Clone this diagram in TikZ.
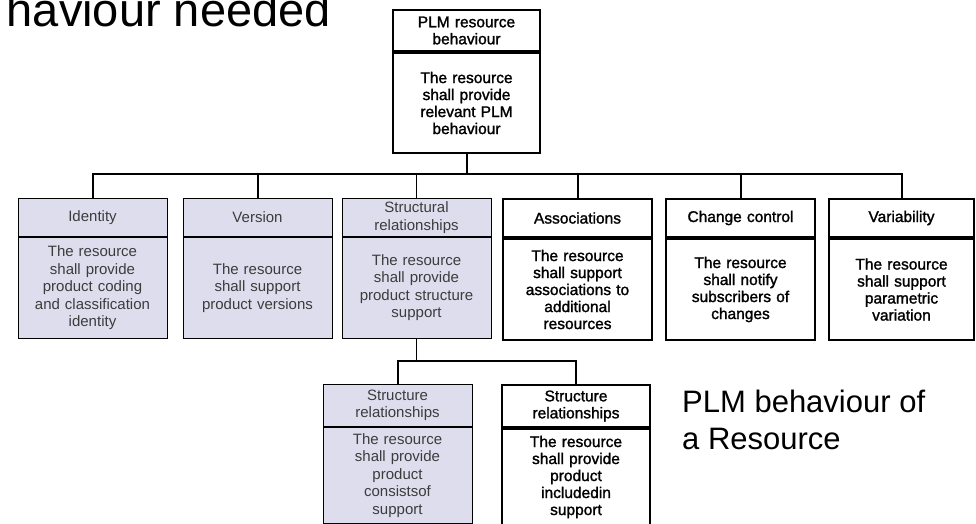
\documentclass[tikz,border=0pt]{standalone}
\usepackage{fontspec}
\setmainfont{Liberation Sans}
\newfontfamily\heavyfont[FakeBold=1.5]{Liberation Sans}
\usetikzlibrary{positioning}
\definecolor{boxlilac}{RGB}{221,221,238}
\definecolor{softgray}{RGB}{60,60,60}

\begin{document}
\begin{tikzpicture}[x=1pt,y=-1pt,
  plain_head/.style={draw,line width=2pt,minimum width=149pt,minimum height=38pt,text width=145pt,align=center,inner sep=0pt,font=\heavyfont\fontsize{15.5}{17}\selectfont},
  plain_body/.style={plain_head,minimum height=101pt},
  lilac_head/.style={plain_head,line width=0.8pt,fill=boxlilac,text=softgray,font=\fontsize{15}{17.5}\selectfont},
  lilac_body/.style={lilac_head,minimum height=101pt},
  link/.style={line width=2pt},
  thin_link/.style={line width=1pt}]
\clip (0,0) rectangle (976,524);
\node[anchor=base east,inner sep=0pt,font=\fontsize{47}{56}\selectfont] (headline) at (331,27) {haviour needed};

\node[plain_head,minimum width=147pt,minimum height=41pt,anchor=north] (h0) at (466.5,9) {PLM resource\\behaviour};
\node[plain_body,minimum width=147pt,minimum height=100pt,below=0pt of h0] (b0) {The resource\\shall provide\\relevant PLM\\behaviour};

\node[lilac_head,anchor=north] (h1) at (92.5,198) {Identity};
\node[lilac_body,below=0pt of h1] (b1) {The resource\\shall provide\\product coding\\and classification\\identity};
\node[lilac_head,anchor=north] (h2) at (257.5,198) {Version};
\node[lilac_body,below=0pt of h2] (b2) {The resource\\shall support\\product versions};
\node[lilac_head,anchor=north] (h3) at (416.5,198) {Structural\\relationships};
\node[lilac_body,below=0pt of h3] (b3) {The resource\\shall provide\\product structure\\support};
\node[plain_head,anchor=north] (h4) at (577.5,198) {Associations};
\node[plain_body,below=0pt of h4] (b4) {The resource\\shall support\\associations to\\additional\\resources};
\node[plain_head,anchor=north] (h5) at (740.5,198) {Change control};
\node[plain_body,below=0pt of h5] (b5) {The resource\\shall notify\\subscribers of\\changes};
\node[plain_head,minimum width=145pt,anchor=north] (h6) at (901.5,198) {Variability};
\node[plain_body,minimum width=145pt,below=0pt of h6] (b6) {The resource\\shall support\\parametric\\variation};

\node[lilac_head,minimum height=42pt,anchor=north] (h7) at (397.5,384) {Structure\\relationships};
\node[lilac_body,minimum height=96pt,below=0pt of h7] (b7) {The resource\\shall provide\\product\\consistsof\\support};
\node[plain_head,minimum width=148pt,minimum height=42pt,anchor=north] (h8) at (576,384) {Structure\\relationships};
\node[plain_body,minimum width=148pt,minimum height=96pt,below=0pt of h8] (b8) {The resource\\shall provide\\product\\includedin\\support};

\coordinate (j0) at (466.5,174);
\coordinate (j3) at (416.5,361);
\draw[link] (b0.south) -- (j0);
\foreach \n in {1,2,4,5,6} \draw[link] (j0) -| (h\n.north);
\draw[thin_link] (j0) -| (h3.north);
\draw[thin_link] (b3.south) -- (j3);
\draw[link] (j3) -| (h7.north);
\draw[link] (j3) -| (h8.north);

\node[anchor=north west,inner sep=0pt,align=left,font=\fontsize{31}{37}\selectfont] (caption) at (682,390) {PLM behaviour of\\a Resource};
\end{tikzpicture}
\end{document}
